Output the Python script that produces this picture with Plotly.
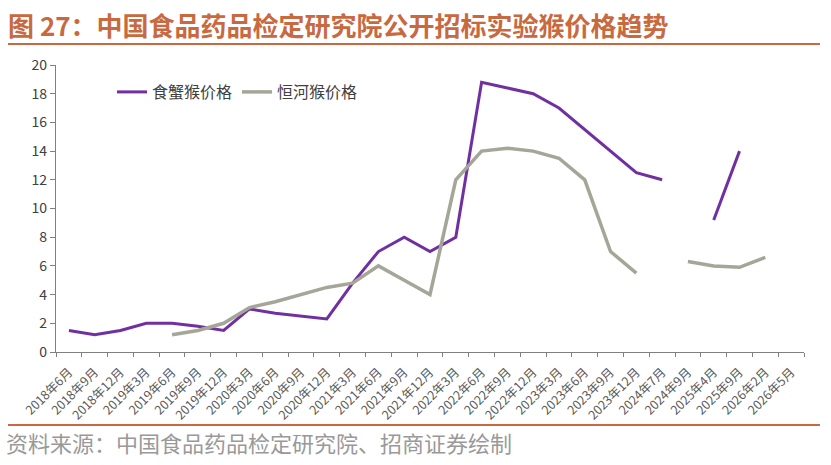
import plotly.graph_objects as go

categories = ["2018年6月", "2018年9月", "2018年12月", "2019年3月", "2019年6月", "2019年9月",
              "2019年12月", "2020年3月", "2020年6月", "2020年9月", "2020年12月", "2021年3月",
              "2021年6月", "2021年9月", "2021年12月", "2022年3月", "2022年6月", "2022年9月",
              "2022年12月", "2023年3月", "2023年6月", "2023年9月", "2023年12月", "2024年7月",
              "2024年9月", "2025年4月", "2025年9月", "2026年2月", "2026年5月"]

crab_monkey = [1.5, 1.2, 1.5, 2.0, 2.0, 1.8, 1.5, 3.0, 2.7, 2.5, 2.3, 4.8, 7.0, 8.0, 7.0,
               8.0, 18.8, 18.4, 18.0, 17.0, 15.5, 14.0, 12.5, 12.0, None, 9.2, 14.0, None, None]
rhesus_monkey = [None, None, None, None, 1.2, 1.5, 2.0, 3.1, 3.5, 4.0, 4.5, 4.8, 6.0, 5.0, 4.0,
                 12.0, 14.0, 14.2, 14.0, 13.5, 12.0, 7.0, 5.5, None, 6.3, 6.0, 5.9, 6.6, None]

y_ticks = [0, 2, 4, 6, 8, 10, 12, 14, 16, 18, 20]

PURPLE = "#7030A0"
GRAY = "#A5A697"
ORANGE = "#C8693F"

fig = go.Figure()
fig.add_trace(go.Scatter(x=categories, y=crab_monkey, mode="lines", name="食蟹猴价格",
                         line=dict(color=PURPLE, width=3), connectgaps=False))
fig.add_trace(go.Scatter(x=categories, y=rhesus_monkey, mode="lines", name="恒河猴价格",
                         line=dict(color=GRAY, width=3.5), connectgaps=False))

L, R, T, B = 56, 804, 65, 352
W, H = 831, 465
pw, ph = R - L, B - T

def px(x):
    return (x - L) / pw

def py(y):
    return (B - y) / ph

fig.update_layout(
    width=W, height=H,
    margin=dict(l=L, r=W - R, t=T, b=H - B, autoexpand=False),
    paper_bgcolor="white", plot_bgcolor="white",
    font=dict(family="Noto Sans CJK SC", color="#404040"),
    showlegend=True,
    legend=dict(orientation="h", x=px(112), y=py(92), xanchor="left", yanchor="middle",
                font=dict(size=16, color="#404040"), bgcolor="rgba(0,0,0,0)",
                itemwidth=30, tracegroupgap=0),
    xaxis=dict(type="category", categoryorder="array", categoryarray=categories,
               tickangle=-45, tickfont=dict(size=12.5, color="#595959"),
               ticklabelstandoff=7,
               showline=True, linecolor="#808080", linewidth=1.2,
               ticks="outside", ticklen=4, tickcolor="#808080", tickson="boundaries",
               showgrid=False, zeroline=False, range=[-0.5, len(categories) - 0.5]),
    yaxis=dict(range=[0, 20], tickvals=y_ticks, tickfont=dict(size=14, color="#404040"),
               showline=True, linecolor="#808080", linewidth=1.2,
               ticks="outside", ticklen=5, tickcolor="#808080",
               showgrid=False, zeroline=False),
)

fig.add_annotation(text="<b>图 27：中国食品药品检定研究院公开招标实验猴价格趋势</b>",
                   xref="paper", yref="paper", x=px(6), y=py(24), xanchor="left",
                   yanchor="middle", showarrow=False,
                   font=dict(size=26, color=ORANGE, family="Noto Sans CJK SC"))
fig.add_annotation(text="资料来源：中国食品药品检定研究院、招商证券绘制",
                   xref="paper", yref="paper", x=px(4), y=py(442), xanchor="left",
                   yanchor="middle", showarrow=False,
                   font=dict(size=22, color="#999999", family="Noto Sans CJK SC"))
fig.add_shape(type="line", xref="paper", yref="paper", x0=px(8), x1=px(820),
              y0=py(44), y1=py(44), line=dict(color=ORANGE, width=2))
fig.add_shape(type="line", xref="paper", yref="paper", x0=px(8), x1=px(820),
              y0=py(425), y1=py(425), line=dict(color=ORANGE, width=2))

fig.write_html("out.html", config={"displayModeBar": False},
               post_script="document.body.style.margin='0';")
